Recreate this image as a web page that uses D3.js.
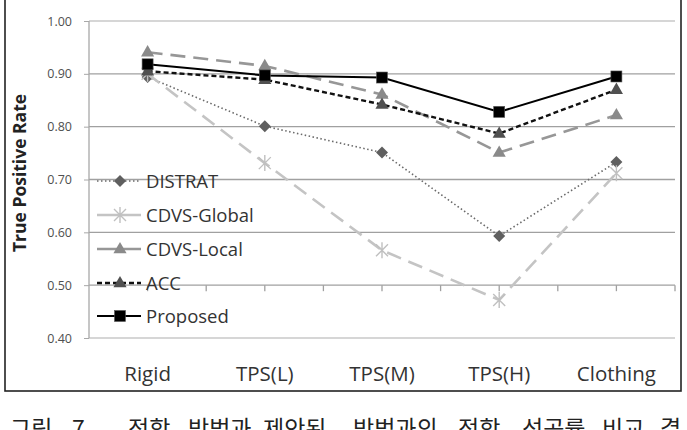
<!DOCTYPE html>
<html>
<head>
<meta charset="utf-8">
<script src="https://cdn.jsdelivr.net/npm/d3@7"></script>
<style>
    body { margin: 0; background: #fff; }
    svg { display: block; }
</style>
</head>
<body>
<div id="graph"></div>
<script>
// Data
let categories = ["Rigid", "TPS(L)", "TPS(M)", "TPS(H)", "Clothing"];
let distrat = [0.894, 0.801, 0.751, 0.593, 0.733];
let cdvsGlobal = [0.900, 0.731, 0.566, 0.472, 0.712];
let cdvsLocal = [0.941, 0.915, 0.861, 0.751, 0.822];
let acc = [0.905, 0.889, 0.842, 0.787, 0.870];
let proposed = [0.918, 0.897, 0.893, 0.828, 0.895];
let yTicks = [0.40, 0.50, 0.60, 0.70, 0.80, 0.90, 1.00];
let captionWords = ["그림", "7.", "정합", "방법과", "제안된", "방법과의", "정합", "성공률", "비교", "결"];

let series = [
    { name: "DISTRAT", values: distrat, stroke: "#6a6a6a", width: 1.6, dash: "1.5,2.5", marker: "diamond", fill: "#5f5f5f" },
    { name: "CDVS-Global", values: cdvsGlobal, stroke: "#c4c4c4", width: 2.6, dash: "15,8", marker: "star", fill: "#c0c0c0" },
    { name: "CDVS-Local", values: cdvsLocal, stroke: "#979797", width: 2.6, dash: "15,8", marker: "triangle", fill: "#8a8a8a" },
    { name: "ACC", values: acc, stroke: "#111", width: 2.4, dash: "5,3", marker: "triangle", fill: "#505050" },
    { name: "Proposed", values: proposed, stroke: "#000", width: 2, dash: null, marker: "square", fill: "#000" }
];

let width = 687;
let height = 430;
let plotLeft = 89, plotRight = 675, plotTop = 21, plotBottom = 338;

let svg = d3.select("#graph")
    .append("svg")
    .attr("width", width)
    .attr("height", height);

// Scales
let xBand = d3.scaleBand().domain(categories).range([plotLeft, plotRight]);
let x = c => xBand(c) + xBand.bandwidth() / 2;
let y = d3.scaleLinear().domain([0.4, 1.0]).range([plotBottom, plotTop]);

// Outer frame
svg.append("rect")
    .attr("x", 5).attr("y", -5)
    .attr("width", 676).attr("height", 396)
    .attr("fill", "none").attr("stroke", "#222").attr("stroke-width", 1.6);

// Gridlines
svg.append("g")
    .selectAll("line")
    .data(yTicks)
    .join("line")
    .attr("x1", plotLeft).attr("x2", plotRight)
    .attr("y1", d => y(d)).attr("y2", d => y(d))
    .attr("stroke", d => (d === 1.0 || d === 0.4) ? "#c8c8c8" : "#a0a0a0")
    .attr("stroke-width", 1.3);

// Y axis
let yAxis = svg.append("g")
    .attr("transform", "translate(" + plotLeft + ",0)")
    .call(d3.axisLeft(y).tickValues(yTicks).tickFormat(d3.format(".2f")).tickSize(5).tickPadding(12));
yAxis.select(".domain").attr("stroke", "#a8a8a8").attr("stroke-width", 1.3).attr("d", "M0," + plotTop + "V" + plotBottom);
yAxis.selectAll(".tick line").attr("stroke", "#a8a8a8");
yAxis.selectAll("text")
    .attr("font-family", "Open Sans, sans-serif")
    .attr("font-size", 12.5)
    .attr("fill", "#505050");

// Category axis crossing at 0.50
let halfTicks = d3.range(0, categories.length * 2 + 1).map(i => plotLeft + i * xBand.bandwidth() / 2);
let xAxis = svg.append("g").attr("transform", "translate(0," + y(0.5) + ")");
xAxis.selectAll("line")
    .data(halfTicks.slice(1))
    .join("line")
    .attr("x1", d => d).attr("x2", d => d)
    .attr("y1", 0).attr("y2", 6)
    .attr("stroke", "#a0a0a0").attr("stroke-width", 1.3);

// Category labels
svg.append("g")
    .selectAll("text")
    .data(categories)
    .join("text")
    .attr("x", d => x(d))
    .attr("y", 381)
    .attr("text-anchor", "middle")
    .attr("font-family", "Open Sans, sans-serif")
    .attr("font-size", 20.5)
    .attr("fill", "#333")
    .text(d => d);

// Y title
svg.append("text")
    .attr("transform", "translate(26,173) rotate(-90)")
    .attr("text-anchor", "middle")
    .attr("font-family", "Open Sans, sans-serif")
    .attr("font-weight", "bold")
    .attr("font-size", 17.5)
    .attr("fill", "#222")
    .text("True Positive Rate");

// Markers
function drawMarker(g, type, cx, cy, s) {
    if (type === "diamond") {
        g.append("path")
            .attr("d", "M" + cx + "," + (cy - 6) + "L" + (cx + 6) + "," + cy +
                "L" + cx + "," + (cy + 6) + "L" + (cx - 6) + "," + cy + "Z")
            .attr("fill", s.fill);
    } else if (type === "square") {
        g.append("rect").attr("x", cx - 5.5).attr("y", cy - 5.5)
            .attr("width", 11).attr("height", 11)
            .attr("fill", s.fill).attr("stroke", "#555").attr("stroke-width", 0.6);
    } else if (type === "triangle") {
        g.append("path").attr("d", d3.symbol(d3.symbolTriangle, 75)())
            .attr("transform", "translate(" + cx + "," + (cy + 0.5) + ")")
            .attr("fill", s.fill);
    } else if (type === "star") {
        g.append("path")
            .attr("d", "M" + (cx - 6) + "," + (cy - 6) + "L" + (cx + 6) + "," + (cy + 6) +
                "M" + (cx + 6) + "," + (cy - 6) + "L" + (cx - 6) + "," + (cy + 6) +
                "M" + cx + "," + (cy - 8) + "L" + cx + "," + (cy + 8))
            .attr("stroke", s.fill).attr("stroke-width", 1.4).attr("fill", "none");
    }
}

// Lines
let line = d3.line()
    .x((d, i) => x(categories[i]))
    .y(d => y(d));

series.forEach(s => {
    let g = svg.append("g");
    g.append("path")
        .datum(s.values)
        .attr("d", line)
        .attr("fill", "none")
        .attr("stroke", s.stroke)
        .attr("stroke-width", s.width)
        .attr("stroke-dasharray", s.dash);
    s.values.forEach((v, i) => drawMarker(g, s.marker, x(categories[i]), y(v), s));
});

// Legend
let legendY = [181, 215, 249, 283, 316];
series.forEach((s, i) => {
    let g = svg.append("g");
    g.append("line")
        .attr("x1", 97).attr("x2", 141)
        .attr("y1", legendY[i]).attr("y2", legendY[i])
        .attr("stroke", s.stroke)
        .attr("stroke-width", s.width)
        .attr("stroke-dasharray", s.dash && s.dash.startsWith("15") ? null : s.dash);
    drawMarker(g, s.marker, 120, legendY[i], s);
    g.append("text")
        .attr("x", 146).attr("y", legendY[i] + 7)
        .attr("font-family", "Open Sans, sans-serif")
        .attr("font-size", 18.5)
        .attr("fill", "#333")
        .text(s.name);
});

// Caption (cut off at the bottom, as in the source)
let captionX = [10, 72, 128, 188, 263, 353, 458, 522, 602, 660];
svg.append("g")
    .selectAll("text")
    .data(captionWords)
    .join("text")
    .attr("x", (d, i) => captionX[i])
    .attr("y", 437)
    .attr("font-family", "Noto Sans CJK KR, sans-serif")
    .attr("font-size", 23)
    .attr("fill", "#222")
    .text(d => d);
</script>
</body>
</html>
